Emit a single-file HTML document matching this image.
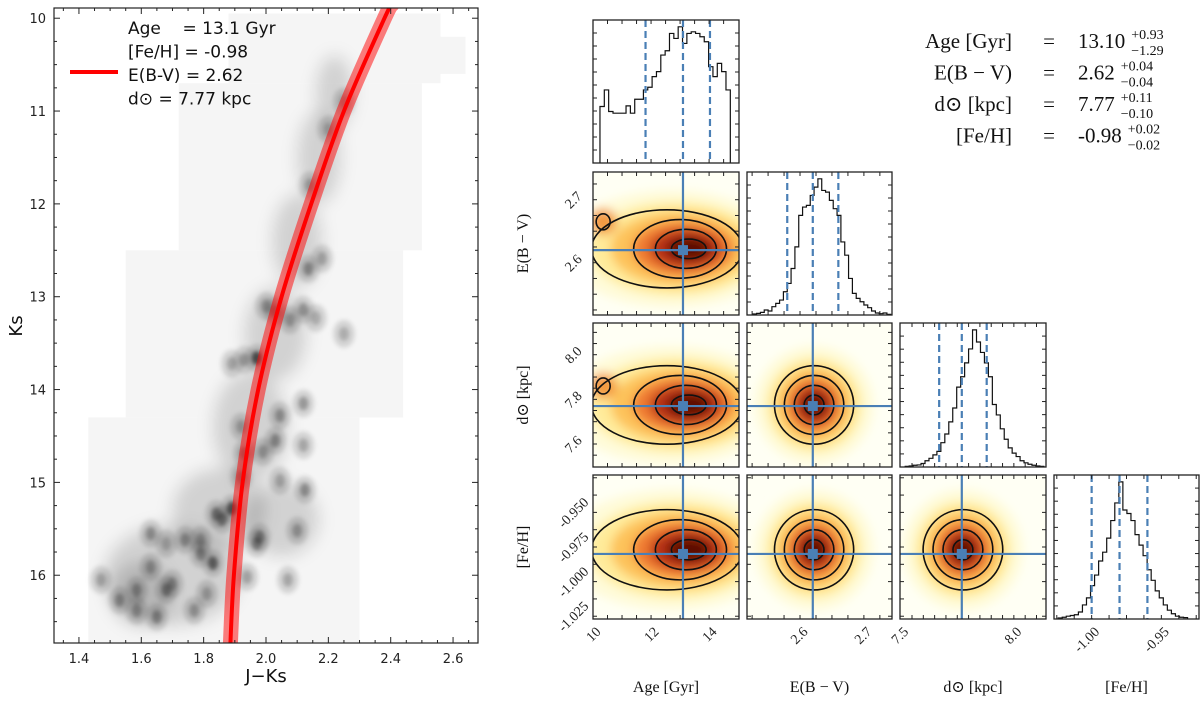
<!DOCTYPE html>
<html><head><meta charset="utf-8"><style>
html,body{margin:0;padding:0;background:#fff;}
svg{display:block;}
.dj{font-family:"DejaVu Sans","Liberation Sans",sans-serif;}
.sf{font-family:"Liberation Serif","DejaVu Serif",serif;}
</style></head><body>
<svg id="fig" width="1200" height="706" viewBox="0 0 1200 706" xmlns="http://www.w3.org/2000/svg">
<defs>
<filter id="blur2" x="-50%" y="-50%" width="200%" height="200%"><feGaussianBlur stdDeviation="2.2"/></filter>
<filter id="blur5" x="-50%" y="-50%" width="200%" height="200%"><feGaussianBlur stdDeviation="5"/></filter>
<filter id="blur8" x="-50%" y="-50%" width="200%" height="200%"><feGaussianBlur stdDeviation="8"/></filter>
</defs>
</svg>
<script>
// ---------- CMD data ----------
const isoColor = [1.885, 1.897, 1.925, 1.975, 2.05, 2.145, 2.25, 2.38, 2.405];
const isoKs = [16.8, 16.0, 15.0, 14.0, 13.0, 12.0, 11.0, 10.0, 9.85];
const cmdXTicks = [1.4, 1.6, 1.8, 2.0, 2.2, 2.4, 2.6];
const cmdYTicks = [10, 11, 12, 13, 14, 15, 16];
const bgX0 = [1.43, 1.55, 1.72, 1.88, 2.55];
const bgX1 = [2.30, 2.44, 2.50, 2.56, 2.64];
const bgK0 = [14.3, 12.5, 10.7, 9.95, 10.2];
const bgK1 = [16.72, 14.3, 12.5, 10.7, 10.6];
const bandX = [1.70, 1.85, 1.95, 2.03, 2.10, 2.17, 2.22, 1.60, 2.05];
const bandK = [16.0, 15.3, 14.4, 13.4, 12.4, 11.5, 10.8, 16.2, 15.4];
const bandRx = [0.22, 0.15, 0.12, 0.1, 0.08, 0.07, 0.06, 0.1, 0.12];
const bandRy = [0.55, 0.45, 0.6, 0.5, 0.5, 0.5, 0.4, 0.35, 0.4];
const spotX = [1.97,1.89,1.83,1.86,2.00,2.136,2.18,2.12,2.077,2.03,2.16,2.25,1.89,1.93,2.12,2.045,2.03,2.12,1.92,1.93,1.99,2.045,2.125,1.92,1.84,1.79,1.74,1.79,1.97,1.68,1.63,1.63,1.68,1.65,1.585,1.585,1.47,1.53,1.77,1.81,1.98,1.94,2.07,2.10,1.70,2.14,2.20,2.25];
const spotK = [13.66,15.28,15.87,15.40,13.10,12.70,12.59,13.14,13.25,13.16,13.23,13.40,13.72,13.68,14.15,14.28,14.55,14.60,14.40,14.69,14.67,14.98,15.08,14.94,15.34,15.62,15.62,15.77,15.66,15.66,15.55,15.91,16.16,16.45,16.16,16.38,16.05,16.27,16.38,16.20,15.59,16.02,16.05,15.52,16.09,11.8,11.2,10.9];
const spotDark = [0.95,0.9,0.8,0.6,0.4,0.5,0.35,0.45,0.4,0.4,0.3,0.3,0.35,0.4,0.45,0.45,0.5,0.35,0.35,0.45,0.4,0.35,0.5,0.4,0.6,0.4,0.45,0.5,0.5,0.3,0.45,0.4,0.5,0.5,0.45,0.4,0.35,0.45,0.4,0.35,0.5,0.35,0.35,0.4,0.4,0.35,0.3,0.3];

// ---------- Corner data ----------
const paramNames = ["Age [Gyr]", "E(B − V)", "d⊙ [kpc]", "[Fe/H]"];
const paramMin = [10.0, 2.517, 7.497, -1.027];
const paramMax = [15.03, 2.744, 8.142, -0.923];
const medians = [13.10, 2.62, 7.77, -0.98];
const q16 = [11.81, 2.58, 7.67, -1.00];
const q84 = [14.03, 2.66, 7.88, -0.96];
const peakCenter = [13.3, 2.622, 7.775, -0.977];
const sigmas = [1.1, 0.031, 0.088, 0.0145];
const tickStep = [0.5, 0.025, 0.05, 0.0125];
const ageHist = [170,220,155,150,150,150,172,150,192,192,220,228,260,275,325,338,390,375,410,360,390,395,390,380,365,290,260,300,275,220];
const ageHistStart = 10.24, ageHistWidth = 0.1497;
const ebvHist = [3,5,8,15,12,25,35,45,70,95,140,205,300,325,330,360,385,410,375,370,345,320,300,220,180,110,65,50,40,30,22,12,6,4,6,2];
const ebvHistStart = 2.526, ebvHistWidth = 0.006;
const dHist = [2,3,5,6,10,18,25,35,45,70,95,130,170,230,260,300,340,395,360,330,300,260,180,150,110,80,55,40,30,18,12,8,5,3,2];
const dHistStart = 7.52, dHistWidth = 0.0175;
const fehHist = [3,5,8,10,12,20,40,60,95,125,165,190,230,280,330,390,310,300,280,240,210,180,140,110,80,60,40,25,15,8,5,4];
const fehHistStart = -1.024, fehHistWidth = 0.0029;
const pairCol = [0, 0, 1, 0, 1, 2];
const pairRow = [1, 2, 2, 3, 3, 3];
const contourK = [0.5, 1.0, 1.5, 2.0];
const ageContourCx = [13.3, 13.2, 13.0, 12.55];
const ageContourRx = [0.6, 1.05, 1.6, 2.6];
const fillK = [3.0, 2.4, 1.9, 1.4, 1.0, 0.6];
const fillColors = ["#fffbd8", "#ffeb9a", "#fdc25a", "#f07c30", "#b83214", "#5c0800"];
const blobAge = 10.35;
const blobY = [2.665, 7.86, -0.975];
const tickLabelVals = [[10, 12, 14], [2.6, 2.7], [7.6, 7.8, 8.0], [-0.950, -0.975, -1.000, -1.025]];
const xTickLabelVals = [[10, 12, 14], [2.6, 2.7], [7.5, 8.0], [-1.00, -0.95]];
const xTickLabelText = [["10","12","14"], ["2.6","2.7"], ["7.5","8.0"], ["-1.00","-0.95"]];
const yTickLabelText = [["10","12","14"], ["2.6","2.7"], ["7.6","7.8","8.0"], ["-0.950","-0.975","-1.000","-1.025"]];
const summaryLabels = ["Age [Gyr]", "E(B − V)", "d⊙ [kpc]", "[Fe/H]"];
const summaryVals = ["13.10", "2.62", "7.77", "-0.98"];
const summaryPlus = ["+0.93", "+0.04", "+0.11", "+0.02"];
const summaryMinus = ["−1.29", "−0.04", "−0.10", "−0.02"];

const NS = "http://www.w3.org/2000/svg";
const svg = document.getElementById("fig");
function mk(tag, parent) { const e = document.createElementNS(NS, tag); (parent || svg).appendChild(e); return e; }
function sa(e, o) { for (const k in o) e.setAttribute(k, o[k]); return e; }

// ---------- Left CMD panel ----------
const L = {x0: 54, x1: 478, y0: 8, y1: 643, cmin: 1.32, cmax: 2.68, kmin: 9.89, kmax: 16.73};
const cx = c => L.x0 + (c - L.cmin) / (L.cmax - L.cmin) * (L.x1 - L.x0);
const ky = k => L.y0 + (k - L.kmin) / (L.kmax - L.kmin) * (L.y1 - L.y0);

const defs = svg.querySelector("defs");
const clipL = mk("clipPath", defs); sa(clipL, {id: "clipL"});
sa(mk("rect", clipL), {x: L.x0, y: L.y0, width: L.x1 - L.x0, height: L.y1 - L.y0});

const cmd = mk("g"); sa(cmd, {"clip-path": "url(#clipL)"});


const bgG = mk("g", cmd);


for (let i = 0; i < bgX0.length; i++) {
  const r = mk("rect", bgG);
  sa(r, {x: cx(bgX0[i]), y: ky(bgK0[i]), width: cx(bgX1[i]) - cx(bgX0[i]), height: ky(bgK1[i]) - ky(bgK0[i]), fill: "#f5f5f5"});
  
  
}
const bandG = mk("g", cmd); sa(bandG, {filter: "url(#blur8)"});


for (let i = 0; i < bandX.length; i++) {
  const e = mk("ellipse", bandG);
  sa(e, {cx: cx(bandX[i]), cy: ky(bandK[i]), rx: cx(bandX[i] + bandRx[i]) - cx(bandX[i]), ry: ky(bandK[i] + bandRy[i]) - ky(bandK[i]), fill: "#000", "fill-opacity": 0.14});
  
  
}
const spotG = mk("g", cmd); sa(spotG, {filter: "url(#blur2)"});


for (let i = 0; i < spotX.length; i++) {
  const halo = mk("ellipse", spotG);
  sa(halo, {cx: cx(spotX[i]), cy: ky(spotK[i]), rx: 11, ry: 14, fill: "#000", "fill-opacity": 0.13});
  
  
  const e = mk("ellipse", spotG);
  sa(e, {cx: cx(spotX[i]), cy: ky(spotK[i]), rx: 5, ry: 7, fill: "#000", "fill-opacity": spotDark[i] * 0.65});
  
  
}
function smoothPath(pts) {
  let d = "M" + pts[0][0] + "," + pts[0][1];
  for (let i = 0; i < pts.length - 1; i++) {
    const p0 = pts[Math.max(0, i - 1)], p1 = pts[i], p2 = pts[i + 1], p3 = pts[Math.min(pts.length - 1, i + 2)];
    const c1 = [p1[0] + (p2[0] - p0[0]) / 6, p1[1] + (p2[1] - p0[1]) / 6];
    const c2 = [p2[0] - (p3[0] - p1[0]) / 6, p2[1] - (p3[1] - p1[1]) / 6];
    d += " C" + c1[0] + "," + c1[1] + " " + c2[0] + "," + c2[1] + " " + p2[0] + "," + p2[1];
  }
  return d;
}
const isoPts = isoColor.map((c, i) => [cx(c), ky(isoKs[i])]);
const isoD = smoothPath(isoPts);
const band = mk("path", cmd); sa(band, {d: isoD, fill: "none", stroke: "#ff0000", "stroke-opacity": 0.5, "stroke-width": 15});


const iso = mk("path", cmd); sa(iso, {d: isoD, fill: "none", stroke: "#ff0000", "stroke-width": 4});



const lf = mk("rect"); sa(lf, {x: L.x0, y: L.y0, width: L.x1 - L.x0, height: L.y1 - L.y0, fill: "none", stroke: "#222", "stroke-width": 1.2});


const ltg = mk("g"); sa(ltg, {stroke: "#222", "stroke-width": 1});


for (let v = 1.35; v <= 2.66; v += 0.05) {
  const x = cx(v); const major = cmdXTicks.some(t => Math.abs(t - v) < 1e-6);
  const len = major ? 6 : 3;
  sa(mk("line", ltg), {x1: x, x2: x, y1: L.y1, y2: L.y1 - len});
  sa(mk("line", ltg), {x1: x, x2: x, y1: L.y0, y2: L.y0 + len});
}
for (let v = 10; v <= 16.7; v += 0.25) {
  const y = ky(v); const major = Math.abs(v - Math.round(v)) < 1e-6;
  const len = major ? 6 : 3;
  sa(mk("line", ltg), {x1: L.x0, x2: L.x0 + len, y1: y, y2: y});
  sa(mk("line", ltg), {x1: L.x1, x2: L.x1 - len, y1: y, y2: y});
}
cmdXTicks.forEach(v => {
  const t = mk("text"); sa(t, {x: cx(v), y: L.y1 + 20, "text-anchor": "middle", "font-size": 13, fill: "#222", class: "dj"});
  t.textContent = v.toFixed(1);
  
  
});
cmdYTicks.forEach(v => {
  const t = mk("text"); sa(t, {x: L.x0 - 8, y: ky(v) + 5, "text-anchor": "end", "font-size": 13, fill: "#222", class: "dj"});
  t.textContent = String(v);
  
  
});
const xt = mk("text"); sa(xt, {x: 266, y: 682, "text-anchor": "middle", "font-size": 18, fill: "#111", class: "dj"}); xt.textContent = "J−Ks";


const yt = mk("text"); sa(yt, {x: 22, y: 326, "text-anchor": "middle", "font-size": 18, fill: "#111", class: "dj", transform: "rotate(-90 22 326)"}); yt.textContent = "Ks";


const lg = mk("g");


const ll = mk("line", lg); sa(ll, {x1: 70, x2: 118, y1: 72, y2: 72, stroke: "#ff0000", "stroke-width": 4});


const legLines = ["Age    = 13.1 Gyr", "[Fe/H] = -0.98", "E(B-V) = 2.62", "d⊙ = 7.77 kpc"];
legLines.forEach((s, i) => {
  const t = mk("text", lg); sa(t, {x: 128, y: 34 + i * 23.5, "font-size": 17, fill: "#111", class: "dj", style: "white-space:pre"});
  t.textContent = s;
  
  
});

// ---------- Corner plot ----------
const colPx = [[593, 739], [747, 892], [900, 1046], [1054, 1199]];
const rowPx = [[20, 163], [172, 315], [323, 467], [475, 619]];
const px = (i, v) => colPx[i][0] + (v - paramMin[i]) / (paramMax[i] - paramMin[i]) * (colPx[i][1] - colPx[i][0]);
const py = (j, v) => rowPx[j][1] - (v - paramMin[j]) / (paramMax[j] - paramMin[j]) * (rowPx[j][1] - rowPx[j][0]);
const blue = "#4a7fb5";

function clipFor(i, j) {
  const id = "cp" + i + "_" + j;
  const c = mk("clipPath", defs); sa(c, {id: id});
  sa(mk("rect", c), {x: colPx[i][0], y: rowPx[j][0], width: colPx[i][1] - colPx[i][0], height: rowPx[j][1] - rowPx[j][0]});
  return "url(#" + id + ")";
}
function frameTicks(i, j, xdim, ydim) {
  const g = mk("g"); sa(g, {stroke: "#222", "stroke-width": 1, fill: "none"});
  
  
  const x0 = colPx[i][0], x1 = colPx[i][1], y0 = rowPx[j][0], y1 = rowPx[j][1];
  sa(mk("rect", g), {x: x0, y: y0, width: x1 - x0, height: y1 - y0, "stroke-width": 1.3});
  const s = tickStep[xdim];
  for (let v = Math.ceil(paramMin[xdim] / s) * s; v <= paramMax[xdim]; v += s) {
    const x = px(xdim, v);
    if (x <= x0 + 1 || x >= x1 - 1) continue;
    sa(mk("line", g), {x1: x, x2: x, y1: y1, y2: y1 - 4});
    sa(mk("line", g), {x1: x, x2: x, y1: y0, y2: y0 + 4});
  }
  if (ydim >= 0) {
    const s2 = tickStep[ydim];
    for (let v = Math.ceil(paramMin[ydim] / s2) * s2; v <= paramMax[ydim]; v += s2) {
      const y = py(ydim, v);
      if (y <= y0 + 1 || y >= y1 - 1) continue;
      sa(mk("line", g), {x1: x0, x2: x0 + 4, y1: y, y2: y});
      sa(mk("line", g), {x1: x1, x2: x1 - 4, y1: y, y2: y});
    }
  } else {
    for (let k = 1; k < 12; k++) {
      const y = y1 - k * (y1 - y0) / 11;
      sa(mk("line", g), {x1: x0, x2: x0 + 4, y1: y, y2: y});
      sa(mk("line", g), {x1: x1, x2: x1 - 4, y1: y, y2: y});
    }
  }
}
const hists = [ageHist, ebvHist, dHist, fehHist];
const hStart = [ageHistStart, ebvHistStart, dHistStart, fehHistStart];
const hWidth = [ageHistWidth, ebvHistWidth, dHistWidth, fehHistWidth];
for (let i = 0; i < 4; i++) {
  const h = hists[i]; const maxv = Math.max(...h) * 1.05;
  const y1 = rowPx[i][1], y0 = rowPx[i][0];
  const hy = v => y1 - v / maxv * (y1 - y0);
  const g = mk("g"); sa(g, {"clip-path": clipFor(i, i)});
  
  
  let d = "M" + px(i, hStart[i]) + "," + y1;
  h.forEach((v, k) => {
    const xa = px(i, hStart[i] + k * hWidth[i]), xb = px(i, hStart[i] + (k + 1) * hWidth[i]);
    d += " L" + xa + "," + hy(v) + " L" + xb + "," + hy(v);
  });
  d += " L" + px(i, hStart[i] + h.length * hWidth[i]) + "," + y1;
  const p = mk("path", g); sa(p, {d: d, fill: "none", stroke: "#111", "stroke-width": 1.2});
  
  
  [q16[i], medians[i], q84[i]].forEach(q => {
    const l = mk("line", g); sa(l, {x1: px(i, q), x2: px(i, q), y1: y0, y2: y1, stroke: blue, "stroke-width": 2.2, "stroke-dasharray": "7,4"});
    
    
  });
  frameTicks(i, i, i, -1);
}
for (let n = 0; n < pairCol.length; n++) {
  const i = pairCol[n], j = pairRow[n];
  const g = mk("g"); sa(g, {"clip-path": clipFor(i, j)});
  
  
  sa(mk("rect", g), {x: colPx[i][0], y: rowPx[j][0], width: colPx[i][1] - colPx[i][0], height: rowPx[j][1] - rowPx[j][0], fill: "#fffff4"});
  const heat = mk("g", g); sa(heat, {filter: "url(#blur5)"});
  const cyv = peakCenter[j], cxv = peakCenter[i];
  fillK.forEach((k, m) => {
    const e = mk("ellipse", heat);
    let ecx, erx;
    if (i === 0) { ecx = px(0, 13.2 - (k - 1) * 0.25); erx = Math.abs(px(0, k * 1.25) - px(0, 0)); }
    else { ecx = px(i, cxv); erx = Math.abs(px(i, sigmas[i] * k) - px(i, 0)); }
    sa(e, {cx: ecx, cy: py(j, cyv), rx: erx, ry: Math.abs(py(j, sigmas[j] * k) - py(j, 0)), fill: fillColors[m]});
    
    
  });
  if (i === 0 && j < 3) {
    const b = mk("ellipse", heat); sa(b, {cx: px(0, blobAge), cy: py(j, blobY[j - 1]), rx: 14, ry: 13, fill: "#f39a40"});
    
    
  }
  contourK.forEach((k, m) => {
    const e = mk("ellipse", g);
    let ecx, erx;
    if (i === 0) { ecx = px(0, ageContourCx[m]); erx = Math.abs(px(0, ageContourRx[m]) - px(0, 0)); }
    else { ecx = px(i, cxv); erx = Math.abs(px(i, sigmas[i] * k) - px(i, 0)); }
    sa(e, {cx: ecx, cy: py(j, cyv), rx: erx, ry: Math.abs(py(j, sigmas[j] * k) - py(j, 0)), fill: "none", stroke: "#111", "stroke-width": 1.6});
    
    
  });
  if (i === 0 && j < 3) {
    const b = mk("ellipse", g); sa(b, {cx: px(0, blobAge), cy: py(j, blobY[j - 1]), rx: 7, ry: 8, fill: "none", stroke: "#111", "stroke-width": 1.6});
    
    
  }
  const vx = px(i, medians[i]), hy = py(j, medians[j]);
  const vl = mk("line", g); sa(vl, {x1: vx, x2: vx, y1: rowPx[j][0], y2: rowPx[j][1], stroke: blue, "stroke-width": 2.2});
  
  
  const hl = mk("line", g); sa(hl, {x1: colPx[i][0], x2: colPx[i][1], y1: hy, y2: hy, stroke: blue, "stroke-width": 2.2});
  
  
  const mkr = mk("rect", g); sa(mkr, {x: vx - 5, y: hy - 5, width: 10, height: 10, fill: blue});
  
  
  frameTicks(i, j, i, j);
}
for (let j = 1; j < 4; j++) {
  tickLabelVals[j].forEach((v, k) => {
    const x = colPx[0][0] - 20, y = py(j, v);
    const t = mk("text"); sa(t, {x: x, y: y + 5, "text-anchor": "middle", "font-size": 14, fill: "#222", class: "sf", transform: "rotate(-45 " + x + " " + y + ")"});
    t.textContent = yTickLabelText[j][k];
    
    
  });
}
for (let i = 0; i < 4; i++) {
  xTickLabelVals[i].forEach((v, k) => {
    const x = px(i, v) + 5, y = rowPx[3][1] + 10;
    const t = mk("text"); sa(t, {x: x, y: y + 5, "text-anchor": "end", "font-size": 14, fill: "#222", class: "sf", transform: "rotate(-45 " + x + " " + y + ")"});
    t.textContent = xTickLabelText[i][k];
    
    
  });
  const t = mk("text"); sa(t, {x: (colPx[i][0] + colPx[i][1]) / 2, y: 692, "text-anchor": "middle", "font-size": 16, fill: "#111", class: "sf"});
  t.textContent = paramNames[i];
  
  
}
for (let j = 1; j < 4; j++) {
  const y = (rowPx[j][0] + rowPx[j][1]) / 2, x = 528;
  const t = mk("text"); sa(t, {x: x, y: y, "text-anchor": "middle", "font-size": 16, fill: "#111", class: "sf", transform: "rotate(-90 " + x + " " + y + ")"});
  t.textContent = paramNames[j];
  
  
}
const sg = mk("g"); sa(sg, {class: "sf", fill: "#111"});


for (let r = 0; r < 4; r++) {
  const y = 48 + r * 31.5;
  const a = mk("text", sg); sa(a, {x: 1012, y: y, "text-anchor": "end", "font-size": 21}); a.textContent = summaryLabels[r];
  
  
  const e = mk("text", sg); sa(e, {x: 1049, y: y, "text-anchor": "middle", "font-size": 21}); e.textContent = "=";
  
  
  const v = mk("text", sg); sa(v, {x: 1078, y: y, "font-size": 21}); v.textContent = summaryVals[r];
  
  
  let w = 0; try { w = v.getComputedTextLength(); } catch (err) { w = 50; }
  if (!w) w = 50;
  const vx = 1078 + w + 6;
  const p = mk("text", sg); sa(p, {x: vx, y: y - 9, "font-size": 14}); p.textContent = summaryPlus[r];
  
  
  const m = mk("text", sg); sa(m, {x: vx, y: y + 7, "font-size": 14}); m.textContent = summaryMinus[r];
  
  
}
</script>
</body></html>
